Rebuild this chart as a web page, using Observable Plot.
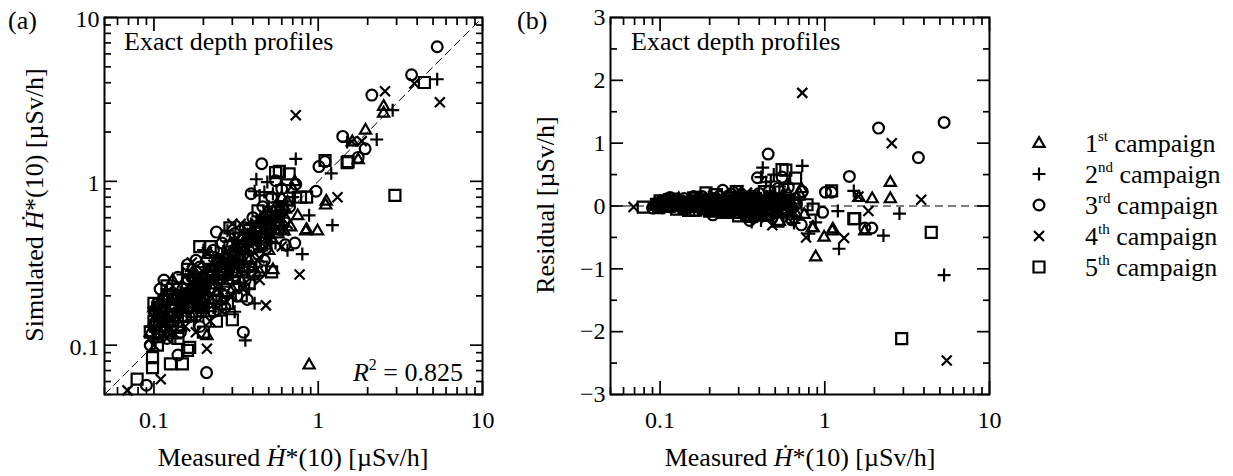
<!DOCTYPE html>
<html><head><meta charset="utf-8">
<script src="https://cdn.jsdelivr.net/npm/d3@7"></script>
<script src="https://cdn.jsdelivr.net/npm/@observablehq/plot@0.6"></script>
<style>
html,body{margin:0;padding:0;background:#fff;}
#wrap{position:relative;width:1233px;height:476px;overflow:hidden;font-family:"Liberation Serif","Times New Roman",serif;}
#wrap > *{position:absolute;}
</style></head>
<body><div id="wrap"></div>
<script>
// ---------------- data ----------------
const campaigns = ["1st", "2nd", "3rd", "4th", "5th"];
// [measured, simulated] pairs, µSv/h
const c1 = [[0.095,0.12],[0.1,0.17],[0.105,0.11],[0.11,0.13],[0.12,0.15],[0.13,0.17],[0.14,0.16],[0.15,0.19],[0.16,0.21],[0.17,0.15],[0.18,0.2],[0.19,0.24],[0.2,0.23],[0.21,0.115],[0.22,0.27],[0.23,0.3],[0.24,0.21],[0.25,0.28],[0.26,0.33],[0.28,0.31],[0.29,0.25],[0.3,0.36],[0.31,0.4],[0.33,0.35],[0.35,0.42],[0.37,0.47],[0.38,0.33],[0.4,0.5],[0.42,0.45],[0.44,0.58],[0.45,0.4],[0.47,0.62],[0.5,0.55],[0.52,0.45],[0.53,0.29],[0.55,0.7],[0.58,0.6],[0.6,0.8],[0.62,0.5],[0.65,0.75],[0.68,0.53],[0.7,0.9],[0.72,1.0],[0.75,0.62],[0.84,0.5],[0.85,0.51],[0.88,0.076],[0.99,0.5],[1.11,0.72],[1.12,0.76],[1.61,1.75],[1.75,1.36],[1.94,2.06],[2.5,2.88],[2.5,2.62],
  [0.1,0.14],[0.11,0.19],[0.115,0.16],[0.125,0.12],[0.135,0.2],[0.145,0.13],[0.155,0.25],[0.165,0.18],[0.19,0.17],[0.21,0.2],[0.24,0.33],[0.27,0.24],[0.32,0.28],[0.34,0.46],[0.36,0.3],[0.39,0.38],[0.43,0.52],[0.46,0.48],[0.49,0.66],[0.57,0.48],[0.63,0.68],
  [0.22,0.17],[0.26,0.19],[0.3,0.22],[0.34,0.25],[0.4,0.3],[0.44,0.28],[0.5,0.38],[0.13,0.25],[0.17,0.3],[0.22,0.36],
  [0.115,0.14],[0.14,0.19],[0.17,0.2],[0.2,0.26],[0.45,0.55],[0.55,0.5]];
const c2 = [[0.1,0.11],[0.105,0.15],[0.11,0.14],[0.12,0.13],[0.125,0.18],[0.14,0.18],[0.15,0.14],[0.16,0.2],[0.17,0.22],[0.18,0.17],[0.19,0.25],[0.2,0.21],[0.21,0.28],[0.22,0.24],[0.23,0.17],[0.24,0.29],[0.25,0.22],[0.26,0.36],[0.27,0.3],[0.29,0.34],[0.3,0.26],[0.31,0.44],[0.33,0.38],[0.34,0.3],[0.35,0.48],[0.36,0.107],[0.37,0.4],[0.38,0.22],[0.39,0.55],[0.4,0.45],[0.41,0.87],[0.41,0.18],[0.42,1.03],[0.44,0.82],[0.45,0.6],[0.47,0.86],[0.48,0.5],[0.49,0.99],[0.5,0.7],[0.53,0.84],[0.55,0.65],[0.57,0.75],[0.6,0.95],[0.62,0.72],[0.65,0.38],[0.7,0.8],[0.73,1.37],[0.8,0.36],[0.88,0.62],[1.2,1.12],[1.22,0.54],[1.5,1.74],[2.27,1.8],[2.84,2.72],[5.3,4.2],
  [0.095,0.13],[0.1,0.17],[0.108,0.12],[0.115,0.2],[0.13,0.15],[0.135,0.11],[0.145,0.21],[0.155,0.17],[0.165,0.26],[0.175,0.14],[0.185,0.21],[0.2,0.3],[0.215,0.18],[0.235,0.26],[0.255,0.31],[0.28,0.27],[0.3,0.4],[0.32,0.33],[0.36,0.36],[0.43,0.42],[0.46,0.55],[0.52,0.6],
  [0.2,0.15],[0.24,0.18],[0.28,0.2],[0.33,0.24],[0.37,0.28],[0.42,0.3],[0.55,0.42],[0.31,0.16],[0.12,0.22],[0.15,0.27],[0.2,0.38],[0.28,0.5],
  [0.11,0.17],[0.13,0.19],[0.16,0.16],[0.19,0.2],[0.5,0.45],[0.6,0.6]];
const c3 = [[0.09,0.057],[0.1,0.13],[0.105,0.18],[0.109,0.22],[0.11,0.16],[0.12,0.11],[0.13,0.19],[0.14,0.087],[0.14,0.14],[0.15,0.22],[0.16,0.31],[0.16,0.17],[0.17,0.26],[0.18,0.15],[0.19,0.3],[0.2,0.19],[0.209,0.068],[0.21,0.33],[0.22,0.22],[0.23,0.38],[0.24,0.49],[0.25,0.25],[0.26,0.42],[0.27,0.2],[0.28,0.35],[0.3,0.28],[0.31,0.48],[0.32,0.23],[0.34,0.4],[0.35,0.12],[0.36,0.52],[0.37,0.19],[0.38,0.3],[0.39,0.84],[0.4,0.6],[0.43,0.36],[0.453,1.28],[0.46,0.7],[0.48,0.39],[0.5,0.5],[0.52,0.8],[0.55,1.01],[0.58,0.62],[0.6,0.9],[0.63,0.41],[0.67,0.7],[0.72,0.42],[0.73,0.96],[0.97,0.87],[1.01,1.23],[1.1,1.32],[1.41,1.88],[1.75,1.4],[1.93,1.58],[2.12,3.36],[3.7,4.47],[5.3,6.63],
  [0.095,0.1],[0.1,0.16],[0.107,0.14],[0.115,0.12],[0.12,0.2],[0.125,0.15],[0.135,0.17],[0.145,0.12],[0.15,0.18],[0.165,0.21],[0.175,0.19],[0.185,0.24],[0.195,0.16],[0.21,0.25],[0.23,0.28],[0.245,0.2],[0.26,0.3],[0.29,0.31],[0.33,0.34],[0.35,0.44],[0.42,0.5],[0.45,0.42],[0.54,0.55],[0.62,0.58],
  [0.19,0.13],[0.23,0.16],[0.27,0.17],[0.32,0.2],[0.36,0.25],[0.41,0.27],[0.47,0.33],[0.115,0.25],[0.14,0.26],[0.18,0.33],[0.27,0.46],
  [0.105,0.12],[0.13,0.13],[0.155,0.2],[0.2,0.24],[0.44,0.46],[0.56,0.66]];
const c4 = [[0.069,0.053],[0.1,0.1],[0.1,0.15],[0.105,0.12],[0.11,0.062],[0.11,0.18],[0.115,0.14],[0.12,0.17],[0.13,0.12],[0.14,0.2],[0.15,0.17],[0.16,0.23],[0.17,0.19],[0.18,0.26],[0.19,0.21],[0.2,0.28],[0.21,0.095],[0.22,0.2],[0.23,0.31],[0.24,0.25],[0.26,0.3],[0.28,0.38],[0.3,0.32],[0.32,0.45],[0.33,0.28],[0.337,0.55],[0.35,0.38],[0.37,0.5],[0.4,0.42],[0.42,0.55],[0.44,0.34],[0.47,0.62],[0.48,0.175],[0.5,0.45],[0.55,0.6],[0.6,0.7],[0.65,0.55],[0.73,2.53],[0.77,0.27],[1.31,0.8],[1.6,1.75],[1.84,1.76],[2.55,3.55],[3.85,3.95],[5.5,3.04],
  [0.095,0.11],[0.1,0.13],[0.105,0.17],[0.11,0.15],[0.12,0.11],[0.125,0.19],[0.135,0.15],[0.145,0.18],[0.155,0.13],[0.17,0.24],[0.185,0.18],[0.195,0.26],[0.21,0.22],[0.23,0.25],[0.25,0.35],[0.27,0.33],[0.29,0.28],[0.31,0.38],[0.34,0.32],[0.38,0.45],[0.45,0.5],[0.52,0.52],[0.58,0.65],
  [0.18,0.12],[0.22,0.14],[0.26,0.16],[0.3,0.2],[0.35,0.22],[0.39,0.26],[0.44,0.25],[0.6,0.4],[0.13,0.23],[0.17,0.32],[0.21,0.37],[0.3,0.55],
  [0.12,0.14],[0.14,0.16],[0.165,0.19],[0.2,0.18],[0.48,0.58],[0.62,0.5]];
const c5 = [[0.079,0.062],[0.098,0.073],[0.098,0.084],[0.1,0.14],[0.105,0.1],[0.11,0.12],[0.12,0.19],[0.126,0.077],[0.13,0.15],[0.14,0.13],[0.149,0.077],[0.15,0.2],[0.16,0.093],[0.165,0.097],[0.17,0.16],[0.18,0.22],[0.19,0.4],[0.2,0.17],[0.21,0.26],[0.23,0.22],[0.25,0.32],[0.255,0.164],[0.27,0.27],[0.29,0.4],[0.3,0.143],[0.31,0.3],[0.33,0.45],[0.36,0.35],[0.38,0.5],[0.41,0.4],[0.43,0.66],[0.45,0.52],[0.48,0.42],[0.52,0.28],[0.55,1.13],[0.55,0.58],[0.58,1.15],[0.6,0.68],[0.665,1.11],[0.78,0.8],[0.85,0.8],[1.1,1.34],[1.5,1.3],[1.52,1.32],[2.93,0.82],[4.43,4.01],
  [0.095,0.12],[0.1,0.18],[0.108,0.15],[0.115,0.17],[0.125,0.14],[0.135,0.18],[0.14,0.11],[0.155,0.15],[0.16,0.24],[0.175,0.2],[0.19,0.18],[0.2,0.23],[0.22,0.29],[0.24,0.24],[0.26,0.27],[0.28,0.33],[0.32,0.36],[0.35,0.3],[0.4,0.46],[0.5,0.55],
  [0.2,0.12],[0.24,0.14],[0.28,0.18],[0.34,0.2],[0.38,0.24],[0.45,0.3],[0.12,0.23],[0.16,0.29],[0.22,0.4],[0.29,0.52],
  [0.11,0.16],[0.13,0.2],[0.15,0.17],[0.18,0.25],[0.42,0.5],[0.57,0.52]];

const logDomain = [0.05, 10];
const logMajor = [0.1, 1, 10];
const logMajorLabels = ["0.1", "1", "10"];
const logMinor = [0.05,0.06,0.07,0.08,0.09,0.2,0.3,0.4,0.5,0.6,0.7,0.8,0.9,2,3,4,5,6,7,8,9];
const resDomain = [-3, 3];
const resMajor = [-3, -2, -1, 0, 1, 2, 3];
const resMajorLabels = ["\u22123", "\u22122", "\u22121", "0", "1", "2", "3"];
const resMinor = [-2.5, -1.5, -0.5, 0.5, 1.5, 2.5];
const zeroLine = [0];
const r2Text = "0.825";
const panelNote = "Exact depth profiles";

// ---------------- derived table ----------------
const rows = [c1, c2, c3, c4, c5].flatMap((arr, i) =>
  arr.map(([m, s]) => ({campaign: campaigns[i], measured: m, simulated: s, residual: s - m})));

// ---------------- symbols ----------------
const symTriangle = {draw(c){ c.moveTo(0,-5.9); c.lineTo(5.6,3.8); c.lineTo(-5.6,3.8); c.closePath(); }};
const symPlus = {draw(c){ c.moveTo(-6.5,0); c.lineTo(6.5,0); c.moveTo(0,-6.5); c.lineTo(0,6.5); }};
const symCircle = {draw(c){ c.moveTo(5.4,0); c.arc(0,0,5.4,0,2*Math.PI); }};
const symTimes = {draw(c){ c.moveTo(-5,-5); c.lineTo(5,5); c.moveTo(-5,5); c.lineTo(5,-5); }};
const symSquare = {draw(c){ c.rect(-5.5,-5.5,11,11); }};
const symbolRange = [symTriangle, symPlus, symCircle, symTimes, symSquare];

const FONT = "'Liberation Serif','Times New Roman',serif";
const style = {fontFamily: FONT, fontSize: "24px", color: "#000", background: "none", overflow: "visible"};
const TW = 1.7;
const MW = 2.2;

function tickAxes(axisFn, major, minor, anchors) {
  return anchors.flatMap(anchor => [
    axisFn(minor, {anchor, tickSize: -7, tickFormat: () => "", label: null, strokeWidth: TW, strokeOpacity: 1}),
    axisFn(major, {anchor, tickSize: -13, tickFormat: () => "", label: null, strokeWidth: TW, strokeOpacity: 1})
  ]);
}

const wrap = document.getElementById("wrap");

// ---------------- panel (a) ----------------
const plotA = Plot.plot({
  width: 500, height: 476,
  marginLeft: 104, marginRight: 18, marginTop: 17, marginBottom: 82,
  style,
  x: {type: "log", domain: logDomain},
  y: {type: "log", domain: logDomain},
  symbol: {domain: campaigns, range: symbolRange},
  marks: [
    ...tickAxes(Plot.axisX, logMajor, logMinor, ["bottom", "top"]),
    ...tickAxes(Plot.axisY, logMajor, logMinor, ["left", "right"]),
    Plot.axisX(logMajor, {anchor: "bottom", tickSize: 0, tickPadding: 16, label: null, fontSize: 24,
      tickFormat: d => logMajorLabels[logMajor.indexOf(d)]}),
    Plot.axisY(logMajor, {anchor: "left", tickSize: 0, tickPadding: 5, label: null, fontSize: 24, dy: 2,
      tickFormat: d => logMajorLabels[logMajor.indexOf(d)]}),
    Plot.line(logDomain, {x: d => d, y: d => d, stroke: "#000", strokeWidth: 1, strokeDasharray: "8,5"}),
    Plot.dot(rows, {x: "measured", y: "simulated", symbol: "campaign", stroke: "#000", fill: "none", strokeWidth: MW}),
    Plot.frame({stroke: "#000", strokeWidth: 2})
  ]
});
plotA.style.left = "0px"; plotA.style.top = "0px";
wrap.appendChild(plotA);

// ---------------- panel (b) ----------------
const plotB = Plot.plot({
  width: 500, height: 476,
  marginLeft: 110, marginRight: 11, marginTop: 17, marginBottom: 82,
  style,
  x: {type: "log", domain: logDomain},
  y: {type: "linear", domain: resDomain},
  symbol: {domain: campaigns, range: symbolRange},
  marks: [
    ...tickAxes(Plot.axisX, logMajor, logMinor, ["bottom", "top"]),
    ...tickAxes(Plot.axisY, resMajor, resMinor, ["left", "right"]),
    Plot.axisX(logMajor, {anchor: "bottom", tickSize: 0, tickPadding: 16, label: null, fontSize: 24,
      tickFormat: d => logMajorLabels[logMajor.indexOf(d)]}),
    Plot.axisY(resMajor, {anchor: "left", tickSize: 0, tickPadding: 5, label: null, fontSize: 24,
      tickFormat: d => resMajorLabels[resMajor.indexOf(d)]}),
    Plot.ruleY(zeroLine, {stroke: "#000", strokeWidth: 1, strokeDasharray: "8,5"}),
    Plot.dot(rows, {x: "measured", y: "residual", symbol: "campaign", stroke: "#000", fill: "none", strokeWidth: MW}),
    Plot.frame({stroke: "#000", strokeWidth: 2})
  ]
});
plotB.style.left = "500px"; plotB.style.top = "0px";
wrap.appendChild(plotB);

// ---------------- annotations, titles, legend ----------------
const ann = d3.create("svg").attr("width", 1233).attr("height", 476)
  .style("left", "0px").style("top", "0px").style("overflow", "visible")
  .attr("font-family", FONT).attr("fill", "#000");

function hdotTitle(g, prefix, suffix) {
  g.append("tspan").text(prefix);
  g.append("tspan").attr("font-style", "italic").text("H\u0307");
  g.append("tspan").text(suffix);
}

ann.append("text").attr("x", 8).attr("y", 29).attr("font-size", 26).text("(a)");
ann.append("text").attr("x", 517).attr("y", 29).attr("font-size", 26).text("(b)");
ann.append("text").attr("x", 124).attr("y", 50).attr("font-size", 26).text(panelNote);
ann.append("text").attr("x", 631).attr("y", 50).attr("font-size", 26).text(panelNote);

const r2 = ann.append("text").attr("x", 463).attr("y", 381).attr("font-size", 26).attr("text-anchor", "end");
r2.append("tspan").attr("font-style", "italic").text("R");
r2.append("tspan").attr("font-size", 16).attr("dy", -11).text("2");
r2.append("tspan").attr("dy", 11).text(" = " + r2Text);

const xtA = ann.append("text").attr("x", 293).attr("y", 466).attr("font-size", 26).attr("text-anchor", "middle");
hdotTitle(xtA, "Measured ", "*(10) [\u00b5Sv/h]");
const xtB = ann.append("text").attr("x", 800).attr("y", 466).attr("font-size", 26).attr("text-anchor", "middle");
hdotTitle(xtB, "Measured ", "*(10) [\u00b5Sv/h]");
const ytA = ann.append("text").attr("transform", "translate(43,205) rotate(-90)").attr("font-size", 26).attr("text-anchor", "middle");
hdotTitle(ytA, "Simulated ", "*(10) [\u00b5Sv/h]");
ann.append("text").attr("transform", "translate(554,205) rotate(-90)").attr("font-size", 26).attr("text-anchor", "middle")
  .text("Residual [\u00b5Sv/h]");

// legend
const ordinals = [["1", "st"], ["2", "nd"], ["3", "rd"], ["4", "th"], ["5", "th"]];
campaigns.forEach((c, i) => {
  const cy = 143 + i * 31;
  ann.append("path").attr("transform", `translate(1039,${cy})`)
    .attr("d", d3.symbol(symbolRange[i])())
    .attr("fill", "none").attr("stroke", "#000").attr("stroke-width", MW);
  const t = ann.append("text").attr("x", 1085).attr("y", cy + 9).attr("font-size", 26);
  t.append("tspan").text(ordinals[i][0]);
  t.append("tspan").attr("font-size", 15).attr("dy", -11).text(ordinals[i][1]);
  t.append("tspan").attr("dy", 11).text(" campaign");
});
wrap.appendChild(ann.node());
</script>
</body></html>
